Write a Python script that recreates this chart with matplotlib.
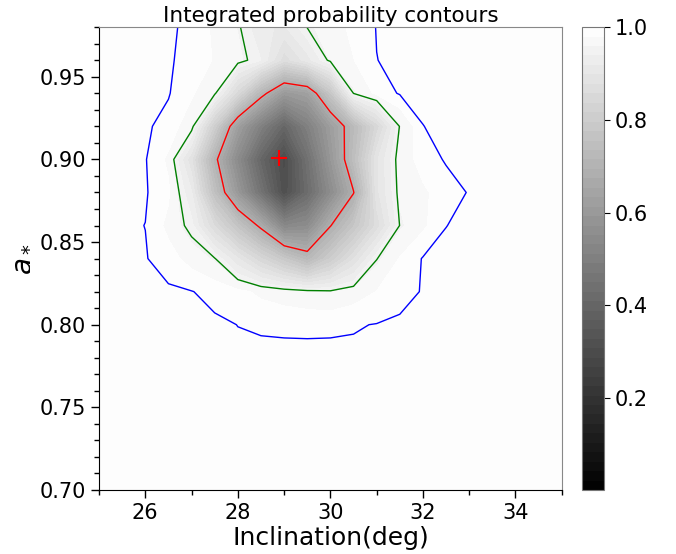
import numpy as np
import matplotlib
matplotlib.use("Agg")
import matplotlib.pyplot as plt
from matplotlib.ticker import MultipleLocator

# grid nodes (inclination in deg, spin a*)
incl = [25.0, 25.5, 26.0, 26.5, 27.0, 27.5, 28.0, 28.5, 29.0, 29.5, 30.0,
        30.5, 31.0, 31.5, 32.0, 32.5, 33.0, 33.5, 34.0, 34.5, 35.0]
spin = [0.98, 0.96, 0.94, 0.92, 0.90, 0.88, 0.86, 0.84, 0.82, 0.80, 0.78, 0.70]

# integrated probability, rows follow `spin` (top to bottom)
prob = [
    [1, 1, 1, .9994, .9934, .9755, .958, .923, .915, .955, .969, .985, .9976, 1, 1, 1, 1, 1, 1, 1, 1],
    [1, 1, 1, .9988, .9916, .978, .965, .939, .865, .909, .961, .979, .9968, 1, 1, 1, 1, 1, 1, 1, 1],
    [1, 1, 1, .9982, .9827, .959, .846, .710, .600, .625, .773, .955, .985, .9988, 1, 1, 1, 1, 1, 1, 1],
    [1, 1, .9994, .9916, .965, .806, .620, .500, .400, .500, .615, .729, .845, .956, .9968, 1, 1, 1, 1, 1, 1],
    [1, 1, .9982, .9755, .882, .701, .545, .400, .300, .440, .590, .743, .894, .967, .988, .9988, 1, 1, 1, 1, 1],
    [1, 1, .9988, .983, .920, .751, .595, .450, .310, .420, .550, .680, .891, .963, .976, .989, .9982, 1, 1, 1, 1],
    [1, 1, .9968, .974, .945, .855, .764, .667, .530, .550, .680, .773, .864, .955, .9755, .9968, 1, 1, 1, 1, 1],
    [1, 1, .9982, .9875, .9715, .9556, .900, .840, .780, .720, .798, .876, .953, .981, .9982, 1, 1, 1, 1, 1, 1],
    [1, 1, 1, 1, .9976, .9916, .985, .975, .968, .962, .958, .969, .980, .9905, .9982, 1, 1, 1, 1, 1, 1],
    [1, 1, 1, 1, 1, 1, .9968, .9955, .995, .9948, .995, .9958, .9976, 1, 1, 1, 1, 1, 1, 1, 1],
    [1] * 21,
    [1] * 21,
]

conf_levels = [0.683, 0.954, 0.997]
conf_colors = ["red", "green", "blue"]
best_fit = (28.89, 0.901)

X, Y = np.meshgrid(incl, spin[::-1])
Z = np.array(prob, dtype=float)[::-1]

fig = plt.figure(figsize=(6.76, 5.54), dpi=100)
ax = fig.add_axes([0.1465, 0.1155, 0.6845, 0.8355])
cax = fig.add_axes([0.861, 0.1155, 0.0325, 0.8355])

cf = ax.contourf(X, Y, Z, levels=np.linspace(0.002, 1.0, 50), cmap="gray")
ax.contour(X, Y, Z, levels=conf_levels, colors=conf_colors, linewidths=1.0)
ax.plot(*best_fit, marker="+", color="red", markersize=11, mew=1.5)

ax.set_xlim(25, 35)
ax.set_ylim(0.70, 0.98)
ax.xaxis.set_major_locator(MultipleLocator(2))
ax.xaxis.set_minor_locator(MultipleLocator(1))
ax.yaxis.set_major_locator(MultipleLocator(0.05))
ax.yaxis.set_minor_locator(MultipleLocator(0.01))
ax.tick_params(which="major", direction="out", length=6, width=1, labelsize=15)
ax.tick_params(which="minor", direction="out", length=3.5, width=1)
for s in ("top", "right"):
    ax.spines[s].set_color("#888888")

ax.set_title("Integrated probability contours", fontsize=15.5, pad=4)
ax.set_xlabel("Inclination(deg)", fontsize=18, labelpad=2)
ax.set_ylabel("$a_*$", fontsize=20, labelpad=4)

cb = fig.colorbar(cf, cax=cax)
cb.set_ticks([0.2, 0.4, 0.6, 0.8, 1.0])
cb.ax.tick_params(labelsize=15, length=4)
cb.outline.set_edgecolor("#777777")

fig.savefig("out.png", dpi=100)
